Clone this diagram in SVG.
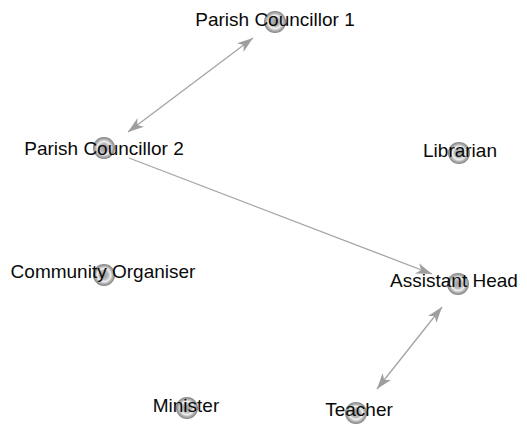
<svg xmlns="http://www.w3.org/2000/svg" width="527" height="426" viewBox="0 0 527 426">
<defs>
<radialGradient id="nodeGrad" cx="50%" cy="50%" r="50%">
<stop offset="0%" stop-color="#9c9c9c"/>
<stop offset="40%" stop-color="#bababa"/>
<stop offset="60%" stop-color="#f0f0f0"/>
<stop offset="78%" stop-color="#b4b4b4"/>
<stop offset="100%" stop-color="#808080"/>
</radialGradient>
<marker id="arrow" viewBox="0 0 16 11" refX="16" refY="5.5" markerWidth="16" markerHeight="11" markerUnits="userSpaceOnUse" orient="auto-start-reverse">
<path d="M0,0 L16,5.5 L0,11 L4.5,5.5 z" fill="#9e9e9e"/>
</marker>
<style>
.node circle { fill: url(#nodeGrad); }
.node text { font-family: "Liberation Sans", Arial, sans-serif; font-size: 19px; fill: #0a0a0a; text-anchor: middle; }
.edge { stroke: #a4a4a4; stroke-width: 1.3; fill: none; }
</style>
</defs>
<rect width="527" height="426" fill="#ffffff"/>
<g id="connectors">
<line class="edge" x1="253" y1="38" x2="128" y2="132" marker-start="url(#arrow)" marker-end="url(#arrow)"/>
<line class="edge" x1="129" y1="158" x2="432" y2="274" marker-end="url(#arrow)"/>
<line class="edge" x1="442" y1="307" x2="377" y2="389" marker-start="url(#arrow)" marker-end="url(#arrow)"/>
</g>
<g id="node-pc1" class="node"><circle cx="275" cy="22" r="11"/><text x="275" y="26">Parish Councillor 1</text></g>
<g id="node-pc2" class="node"><circle cx="104" cy="148" r="11"/><text x="104" y="155">Parish Councillor 2</text></g>
<g id="node-librarian" class="node"><circle cx="459" cy="153" r="11"/><text x="460" y="157">Librarian</text></g>
<g id="node-community" class="node"><circle cx="104" cy="275" r="11"/><text x="103" y="278">Community Organiser</text></g>
<g id="node-assistant" class="node"><circle cx="458" cy="284" r="11"/><text x="454" y="287">Assistant Head</text></g>
<g id="node-minister" class="node"><circle cx="187" cy="408" r="11"/><text x="186" y="412">Minister</text></g>
<g id="node-teacher" class="node"><circle cx="356" cy="413" r="11"/><text x="359" y="416">Teacher</text></g>
</svg>
